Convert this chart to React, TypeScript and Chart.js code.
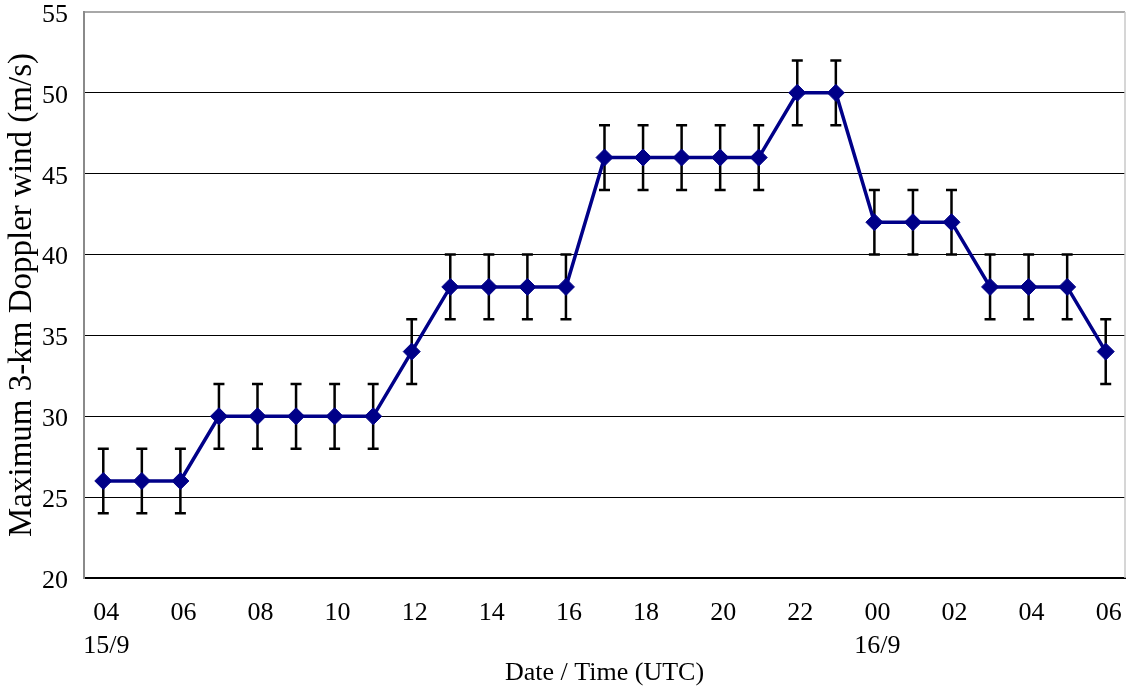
import React, { useEffect, useRef } from "react";
import { Chart, registerables } from "chart.js";

Chart.register(...registerables);

const hours = [
  "04", "05", "06", "07", "08", "09", "10", "11", "12", "13", "14", "15", "16", "17",
  "18", "19", "20", "21", "22", "23", "00", "01", "02", "03", "04", "05", "06",
];
const windValues = [
  26, 26, 26, 30, 30, 30, 30, 30, 34, 38, 38, 38, 38, 46, 46, 46, 46, 46, 50, 50, 42, 42,
  42, 38, 38, 38, 34,
];
const windErrors = [
  2, 2, 2, 2, 2, 2, 2, 2, 2, 2, 2, 2, 2, 2, 2, 2, 2, 2, 2, 2, 2, 2, 2, 2, 2, 2, 2,
];
const dayLabelIndex = [0, 20];
const dayLabelText = ["15/9", "16/9"];
const yTicksMin = 20;
const yTicksMax = 55;
const yStep = 5;

const FONT = "'Liberation Serif', 'Times New Roman', serif";

const errorBarPlugin = {
  id: "errorBars",
  beforeDatasetsDraw(chart: any) {
    const { ctx, scales } = chart;
    const xs = scales.x;
    const ys = scales.y;
    ctx.save();
    ctx.strokeStyle = "#000000";
    ctx.lineWidth = 2.5;
    windValues.forEach((v, i) => {
      const x = xs.getPixelForValue(i);
      const yTop = ys.getPixelForValue(v + windErrors[i]);
      const yBot = ys.getPixelForValue(v - windErrors[i]);
      ctx.beginPath();
      ctx.moveTo(x, yTop);
      ctx.lineTo(x, yBot);
      ctx.moveTo(x - 5.5, yTop);
      ctx.lineTo(x + 5.5, yTop);
      ctx.moveTo(x - 5.5, yBot);
      ctx.lineTo(x + 5.5, yBot);
      ctx.stroke();
    });
    ctx.restore();
  },
  afterDraw(chart: any) {
    const { ctx, chartArea } = chart;
    ctx.save();
    ctx.strokeStyle = "#c8c8c8";
    ctx.lineWidth = 1.5;
    ctx.beginPath();
    ctx.moveTo(chartArea.right, chartArea.top);
    ctx.lineTo(chartArea.right, chartArea.bottom);
    ctx.stroke();
    ctx.restore();
  },
};

export default function App() {
  const canvasRef = useRef<HTMLCanvasElement | null>(null);

  useEffect(() => {
    document.body.style.margin = "0";
    const canvas = canvasRef.current;
    if (!canvas) return;
    const chart = new Chart(canvas, {
      type: "line",
      data: {
        labels: hours,
        datasets: [
          {
            data: windValues,
            borderColor: "#000088",
            backgroundColor: "#000088",
            borderWidth: 3.5,
            pointStyle: "rectRot",
            pointRadius: 8.5,
            pointHoverRadius: 8.5,
            pointBackgroundColor: "#000088",
            pointBorderColor: "#000088",
            pointBorderWidth: 1,
            tension: 0,
            fill: false,
            clip: false,
          },
        ],
      },
      options: {
        responsive: false,
        animation: false,
        devicePixelRatio: 1,
        layout: { autoPadding: false, padding: { top: 12, right: 1, left: 0, bottom: 0 } },
        plugins: {
          legend: { display: false },
          tooltip: { enabled: false },
        },
        scales: {
          x: {
            type: "category",
            offset: true,
            grid: {
              display: true,
              drawOnChartArea: false,
              drawTicks: true,
              tickLength: 19,
              tickColor: "rgba(0,0,0,0)",
              color: "rgba(0,0,0,0)",
            },
            border: { display: true, color: "#000000", width: 2 },
            afterFit: (scale: any) => {
              scale.height = 116;
              scale.paddingLeft = 0;
              scale.paddingRight = 0;
            },
            ticks: {
              autoSkip: false,
              maxRotation: 0,
              minRotation: 0,
              padding: 0,
              labelOffset: 3,
              color: "#000000",
              font: { family: FONT, size: 26, lineHeight: 1.27 },
              callback: (_v: any, idx: number) => {
                const h = hours[idx];
                if (parseInt(h, 10) % 2 !== 0) return "";
                const d = dayLabelIndex.indexOf(idx);
                return d >= 0 ? [h, dayLabelText[d]] : h;
              },
            },
            title: {
              display: true,
              text: "Date / Time (UTC)",
              color: "#000000",
              font: { family: FONT, size: 26 },
              padding: { top: 0, bottom: 5 },
            },
          },
          y: {
            min: yTicksMin,
            max: yTicksMax,
            afterFit: (scale: any) => {
              scale.width = 84;
              scale.paddingTop = 0;
              scale.paddingBottom = 0;
            },
            grid: {
              drawTicks: false,
              color: (c: any) => (c.tick && c.tick.value === yTicksMax ? "#a8a8a8" : "#000000"),
              lineWidth: (c: any) => (c.tick && c.tick.value === yTicksMax ? 2 : 1),
            },
            border: { display: true, color: "#8a8a8a", width: 2 },
            ticks: {
              stepSize: yStep,
              padding: 16,
              labelOffset: 3,
              color: "#000000",
              font: { family: FONT, size: 26 },
            },
            title: {
              display: true,
              text: "Maximum 3-km Doppler wind (m/s)",
              color: "#000000",
              font: { family: FONT, size: 33 },
              padding: { top: 3, bottom: 0 },
            },
          },
        },
      },
      plugins: [errorBarPlugin],
    });
    return () => chart.destroy();
  }, []);

  return (
    <div style={{ width: 1126, height: 694 }}>
      <canvas ref={canvasRef} width={1126} height={694} style={{ display: "block" }} />
    </div>
  );
}
